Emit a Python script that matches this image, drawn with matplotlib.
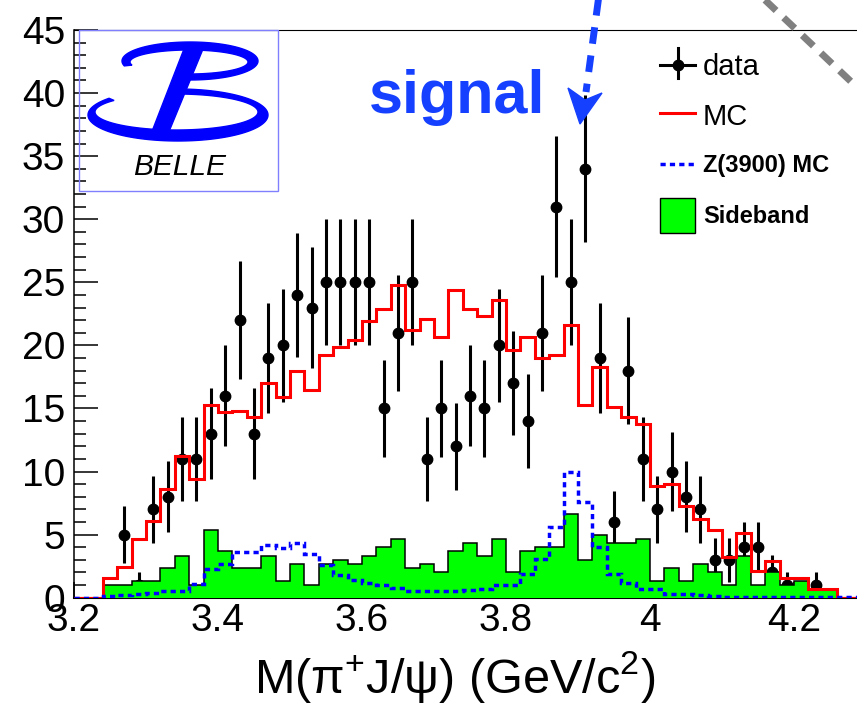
import numpy as np
import matplotlib
matplotlib.use("Agg")
import matplotlib.pyplot as plt
from matplotlib.patches import Polygon, Rectangle
from matplotlib.ticker import MultipleLocator, FuncFormatter

plt.rcParams['font.family'] = ['Liberation Sans', 'DejaVu Sans']
plt.rcParams['mathtext.fontset'] = 'custom'
plt.rcParams['mathtext.rm'] = 'Liberation Sans'
plt.rcParams['mathtext.it'] = 'Liberation Sans:italic'

# histogram binning: 0.02 GeV bins from 3.20 to 4.30
bin_edges = np.round(np.arange(3.20, 4.3001, 0.02), 2)
bin_centers = (bin_edges[:-1] + bin_edges[1:]) / 2

# observed events per bin
data_counts = [0, 0, 0, 5, 1, 7, 8, 11, 11, 13, 16, 22, 13, 19, 20, 24, 23, 25, 25, 25,
               25, 15, 21, 25, 11, 15, 12, 16, 15, 20, 17, 14, 21, 31, 25, 34, 19, 6, 18, 11,
               7, 10, 8, 7, 3, 3, 4, 4, 2, 1, 0, 1, 0, 0, 0]

# phase-space MC (normalised)
mc_counts = [0, 0, 1.6, 2.4, 4.65, 6.1, 8.6, 11.2, 9.4, 15.3, 14.7, 14.8, 14.3, 17.0, 15.9,
             18.0, 16.5, 19.2, 19.9, 20.4, 21.9, 22.9, 24.8, 21.2, 22.1, 20.7, 24.4, 22.9,
             22.3, 23.6, 19.6, 20.7, 19.0, 19.2, 21.6, 15.3, 18.3, 15.1, 14.3, 13.8, 8.85,
             9.0, 7.3, 6.2, 5.4, 3.25, 5.15, 2.15, 2.9, 1.6, 1.6, 0.7, 0.7, 0, 0]

# Z(3900) signal MC
zmc_counts = [0, 0, 0.15, 0.25, 0.3, 0.35, 0.5, 0.55, 1.1, 2.3, 2.7, 3.6, 3.6, 4.2, 3.9,
              4.3, 3.45, 2.6, 1.8, 1.4, 1.15, 1.0, 0.75, 0.55, 0.55, 0.5, 0.55, 0.6, 0.7,
              1.0, 1.0, 1.9, 3.1, 5.6, 10.0, 7.6, 4.0, 1.9, 1.15, 0.65, 0.7, 0.3, 0.3, 0.2,
              0.1, 0.05, 0.05, 0.05, 0.05, 0.05, 0.05, 0.05, 0.05, 0.05, 0.05]

# J/psi sideband (scaled by 1/3)
sideband_counts = [0, 0, 1.0, 1.0, 1.33, 1.33, 2.33, 3.33, 1.0, 5.33, 3.67, 2.33, 2.33,
                   3.33, 1.33, 2.67, 1.0, 2.67, 3.0, 2.67, 3.33, 4.0, 4.67, 2.33, 2.67, 2.0,
                   3.67, 4.33, 3.33, 4.67, 2.0, 3.67, 4.0, 4.0, 6.67, 3.0, 5.0, 4.33, 4.33,
                   4.67, 1.33, 2.33, 1.33, 2.67, 2.0, 1.0, 3.33, 1.0, 2.0, 1.0, 1.33, 0.67,
                   0.67, 0, 0]

W, H = 857, 706
fig = plt.figure(figsize=(W / 100, H / 100), dpi=100)
ax = fig.add_axes([74 / W, 1 - 597.7 / H, 1 - 74 / W, (597.7 - 30) / H])

data = np.array(data_counts, dtype=float)
has = data > 0
ax.errorbar(bin_centers[has], data[has], yerr=np.sqrt(data[has]), fmt='o', color='black',
            ms=7.5, elinewidth=2.2, capsize=0, zorder=2)
ax.stairs(sideband_counts, bin_edges, fill=True, color='#00ff00', zorder=3)
ax.stairs(sideband_counts, bin_edges, color='black', lw=1.1, zorder=3.1)
ax.stairs(mc_counts, bin_edges, color='red', lw=2.2, zorder=4)
ax.stairs(zmc_counts, bin_edges, color='blue', lw=2.5, linestyle=(0, (1.5, 1.2)), zorder=5)

ax.set_xlim(3.2, 3.2 + (W - 74) / 720)
ax.set_ylim(0, 45)
ax.xaxis.set_major_locator(MultipleLocator(0.2))
ax.xaxis.set_minor_locator(MultipleLocator(0.05))
ax.yaxis.set_major_locator(MultipleLocator(5))
ax.yaxis.set_minor_locator(MultipleLocator(1))
ax.xaxis.set_major_formatter(FuncFormatter(lambda v, p: f'{v:g}'))
ax.tick_params(which='both', direction='in', top=False, right=False, width=1.1)
ax.tick_params(axis='y', which='major', length=17, labelsize=28, pad=6.5)
ax.tick_params(axis='y', which='minor', length=8.6)
ax.tick_params(axis='x', which='major', length=11.5, labelsize=28, pad=4)
ax.tick_params(axis='x', which='minor', length=5.8)
ax.spines['right'].set_visible(False)
ax.spines['top'].set_linewidth(0.8)
ax.spines['left'].set_linewidth(1.1)
ax.spines['bottom'].set_linewidth(1.5)

# overlay in pixel coordinates for the annotations
ov = fig.add_axes([0, 0, 1, 1], zorder=10)
ov.set_xlim(0, W)
ov.set_ylim(H, 0)
ov.axis('off')
ov.patch.set_alpha(0)

ov.text(455, 693, r'M($\mathrm{\pi}^{+}$J/$\mathrm{\psi}$) (GeV/c$^{2}$)', fontsize=35,
        ha='center', va='baseline')

# Belle logo
def band(c1, c2, t1, t2):
    t = np.radians(np.linspace(t1, t2, 120))
    outer = np.c_[c1[0] + c1[2] * np.cos(t), c1[1] + c1[3] * np.sin(t)]
    inner = np.c_[c2[0] + c2[2] * np.cos(t), c2[1] + c2[3] * np.sin(t)][::-1]
    return np.vstack([outer, inner])

logo_blue = '#0000ff'
ov.add_patch(Polygon(band((190, 61, 68, 19), (189, 62, 59, 12), 165, 450), color=logo_blue))
ov.add_patch(Polygon(band((178, 115, 90, 26), (176.5, 112, 81.5, 18), 265, 580), color=logo_blue))
ov.add_patch(Polygon([(184, 49), (203, 49), (168, 134), (151, 134)], color=logo_blue))
ov.add_patch(Rectangle((79, 30), 199, 161, fill=False, edgecolor='#8080ff', lw=1))
ov.text(180, 175, 'BELLE', style='italic', fontsize=21.5, ha='center', va='baseline')

# signal annotation
sig_blue = '#1540ff'
ov.text(457, 113, 'signal', color=sig_blue, fontsize=44, fontweight='bold',
        ha='center', va='baseline')
ov.plot([599, 586], [-5, 92], color=sig_blue, lw=5, ls=(0, (2.4, 1.7)))
ov.add_patch(Polygon([(568, 88), (585, 100), (602, 93), (580, 124)], color=sig_blue))

ov.plot([765, 862], [0, 92], color='#808080', lw=5, ls=(0, (2.2, 1.5)))

# legend
ov.plot([660, 695], [65, 65], color='black', lw=2.2)
ov.plot([678, 678], [48, 78], color='black', lw=2.2)
ov.plot([678], [65], 'o', color='black', ms=7.5)
ov.text(703, 75, 'data', fontsize=21, va='baseline')
ov.plot([660, 695], [113, 113], color='red', lw=2.2)
ov.text(703, 125, 'MC', fontsize=21, va='baseline')
ov.plot([660, 695], [164, 164], color='blue', lw=2.5, ls=(0, (1.5, 1.2)))
ov.text(703, 172, 'Z(3900) MC', fontsize=17, fontweight='bold', va='baseline')
ov.add_patch(Rectangle((660, 198), 35, 35, facecolor='#00ff00', edgecolor='black', lw=1))
ov.text(703, 223, 'Sideband', fontsize=17, fontweight='bold', va='baseline')

fig.savefig('out.png', dpi=100)
